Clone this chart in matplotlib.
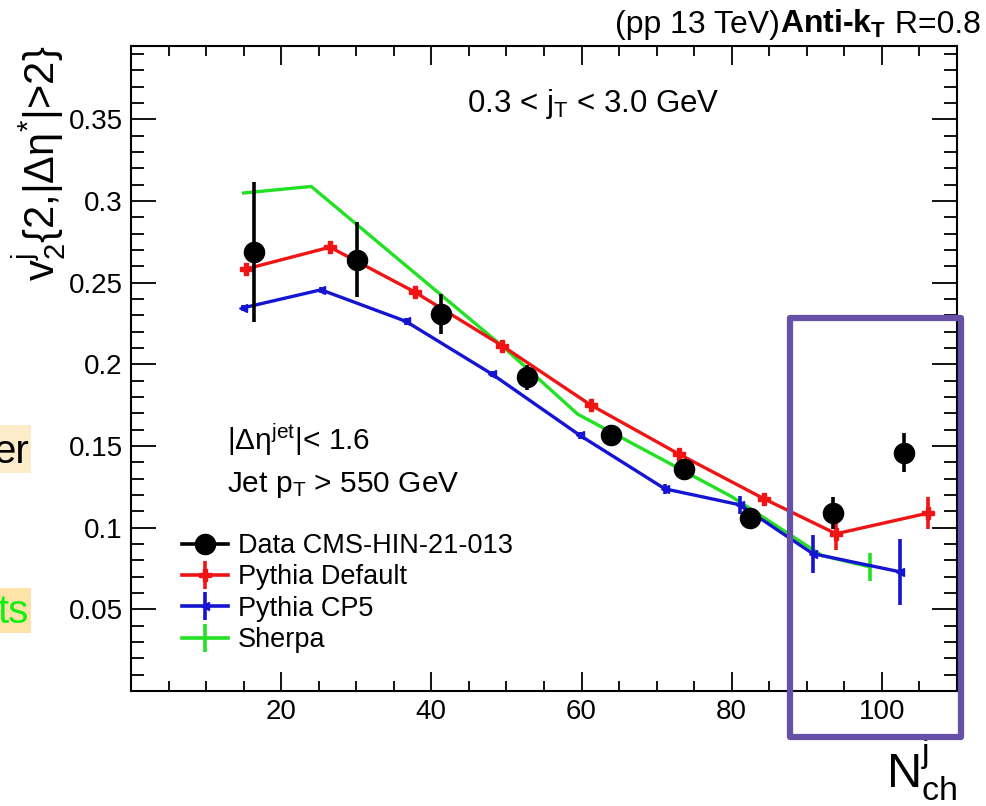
import matplotlib
matplotlib.use("Agg")
import matplotlib.pyplot as plt
from matplotlib.lines import Line2D
from matplotlib.patches import Rectangle
from matplotlib.ticker import MultipleLocator

plt.rcParams['font.family'] = ['Liberation Sans', 'DejaVu Sans']
plt.rcParams['mathtext.fontset'] = 'custom'
plt.rcParams['mathtext.rm'] = 'Liberation Sans'
plt.rcParams['mathtext.it'] = 'Liberation Sans'
plt.rcParams['mathtext.bf'] = 'Liberation Sans:bold'
plt.rcParams['mathtext.default'] = 'regular'

# CMS data, v2 vs jet multiplicity
data_nch = [16.4, 30.1, 41.3, 52.8, 63.9, 73.6, 82.4, 93.5, 103.0]
data_v2 = [0.269, 0.264, 0.231, 0.192, 0.157, 0.136, 0.106, 0.109, 0.146]
data_err = [0.043, 0.023, 0.0122, 0.0075, 0.006, 0.006, 0.006, 0.0098, 0.012]

# Pythia default tune
pyd_nch = [15.35, 26.5, 37.8, 49.4, 61.2, 73.0, 84.3, 93.9, 106.2]
pyd_v2 = [0.2585, 0.2718, 0.2443, 0.2115, 0.1752, 0.145, 0.1177, 0.0963, 0.109]
pyd_err = [0.003, 0.003, 0.003, 0.003, 0.003, 0.003, 0.003, 0.010, 0.0097]

# Pythia CP5 tune
cp5_nch = [14.9, 25.3, 36.6, 48.1, 59.8, 71.1, 81.1, 90.8, 102.4]
cp5_v2 = [0.2346, 0.2457, 0.2264, 0.194, 0.1565, 0.1238, 0.114, 0.0841, 0.073]
cp5_err = [0.002, 0.002, 0.002, 0.002, 0.002, 0.003, 0.0055, 0.0117, 0.0203]

# Sherpa
sherpa_nch = [15.0, 24.0, 49.5, 59.5, 80.0, 92.0, 98.4]
sherpa_v2 = [0.305, 0.309, 0.211, 0.1695, 0.119, 0.083, 0.076]
sherpa_err = [0.0, 0.0, 0.0, 0.0, 0.0, 0.0, 0.0087]

RED = '#f01414'
BLUE = '#1414d2'
GREEN = '#22e022'
W, H = 986, 806

fig = plt.figure(figsize=(W / 100, H / 100), dpi=100)
ax = fig.add_axes([131 / W, 1 - 691 / H, (957 - 131) / W, (691 - 46) / H])

ax.errorbar(sherpa_nch, sherpa_v2, yerr=sherpa_err, color=GREEN, lw=2.4,
            elinewidth=2.6, capsize=0, zorder=2)
ax.errorbar(cp5_nch, cp5_v2, yerr=cp5_err, color=BLUE, lw=2.4, marker='<',
            ms=6, elinewidth=2.6, capsize=0, zorder=3)
ax.errorbar(pyd_nch, pyd_v2, yerr=pyd_err, color=RED, lw=2.4, marker='P',
            ms=8, elinewidth=2.6, capsize=0, zorder=4)
ax.errorbar(data_nch, data_v2, yerr=data_err, fmt='o', color='black',
            ms=14.5, elinewidth=2.6, capsize=0, zorder=5)

ax.set_xlim(0, 110)
ax.set_ylim(0, 0.395)
ax.xaxis.set_minor_locator(MultipleLocator(5))
ax.yaxis.set_minor_locator(MultipleLocator(0.01))
ax.set_xticks([20, 40, 60, 80, 100])
ax.set_yticks([0.05, 0.1, 0.15, 0.2, 0.25, 0.3, 0.35])
ax.set_yticklabels(['0.05', '0.1', '0.15', '0.2', '0.25', '0.3', '0.35'])

ax.tick_params(axis='both', which='both', direction='in', top=True, right=True,
               width=1.3, labelsize=20)
ax.tick_params(axis='y', which='major', length=18, pad=6)
ax.tick_params(axis='y', which='minor', length=9.5)
ax.tick_params(axis='x', which='major', length=14, pad=6)
ax.tick_params(axis='x', which='minor', length=7.5)
for sp in ax.spines.values():
    sp.set_linewidth(1.5)

# axis titles in ROOT placement
fig.text(40 / W, 1 - 46 / H, r'$v^{j}_{2}$' + '{2,|Δη' + r'$^{*}$' + '|>2}',
         rotation=90, ha='center', va='top', fontsize=30)
fig.text(957 / W, 1 - 788 / H, r'$N^{j}_{ch}$', ha='right', va='baseline',
         fontsize=35)

# header: (pp 13 TeV) Anti-kT R=0.8, pieces laid out right to left
fig.canvas.draw()
rend = fig.canvas.get_renderer()
x_right = 981
y_base = 1 - 33 / H
for txt, weight in [(' R=0.8', 'normal'), (r'Anti-k$_{T}$', 'bold'),
                    ('(pp 13 TeV)', 'normal')]:
    t = fig.text(x_right / W, y_base, txt, ha='right', va='baseline',
                 fontsize=23, fontweight=weight)
    x_right -= t.get_window_extent(rend).width

fig.text(467 / W, 1 - 112 / H, r'0.3 < j$_{T}$ < 3.0 GeV', ha='left',
         va='baseline', fontsize=22.5)
fig.text(227 / W, 1 - 450 / H, r'|$\Delta\eta^{jet}$|< 1.6', ha='left',
         va='baseline', fontsize=21.5)
fig.text(227 / W, 1 - 492 / H, r'Jet p$_{T}$ > 550 GeV', ha='left',
         va='baseline', fontsize=21.5)

# legend
h_data = Line2D([], [], color='black', lw=2.6, marker='o', ms=14.5)
h_pyd = (Line2D([], [], color=RED, lw=2.6, marker='P', ms=8),
         Line2D([], [], color=RED, ls='none', marker='|', ms=20, mew=2.6))
h_cp5 = (Line2D([], [], color=BLUE, lw=2.6, marker='<', ms=6),
         Line2D([], [], color=BLUE, ls='none', marker='|', ms=20, mew=2.6))
h_sh = (Line2D([], [], color=GREEN, lw=2.6),
        Line2D([], [], color=GREEN, ls='none', marker='|', ms=20, mew=2.6))
fig.legend([h_data, h_pyd, h_cp5, h_sh],
           ['Data CMS-HIN-21-013', 'Pythia Default', 'Pythia CP5', 'Sherpa'],
           loc='upper left', bbox_to_anchor=(182 / W, 1 - 533 / H),
           frameon=False, fontsize=19.5, borderpad=0, borderaxespad=0,
           handlelength=1.7, handletextpad=0.35, labelspacing=0.2)

# highlight box around the high-multiplicity bins
fig.patches.append(Rectangle((790 / W, 1 - 737 / H), (960.5 - 790) / W,
                             (737 - 317.5) / H, transform=fig.transFigure,
                             fill=False, edgecolor='#6650a8', lw=4.5,
                             joinstyle='round', zorder=10))

# slide text peeking in at the left edge
fig.patches.append(Rectangle((0, 1 - 473 / H), 31 / W, 48 / H,
                             transform=fig.transFigure, facecolor='#fdebc9',
                             edgecolor='none'))
fig.patches.append(Rectangle((0, 1 - 633 / H), 31 / W, 45 / H,
                             transform=fig.transFigure, facecolor='#fde3a7',
                             edgecolor='none'))
fig.text(29 / W, 1 - 463 / H, 'er', ha='right', va='baseline', fontsize=29,
         color='black')
fig.text(29 / W, 1 - 623 / H, 'ts', ha='right', va='baseline', fontsize=29,
         color='#11ee11')

fig.savefig('out.png', dpi=100)
